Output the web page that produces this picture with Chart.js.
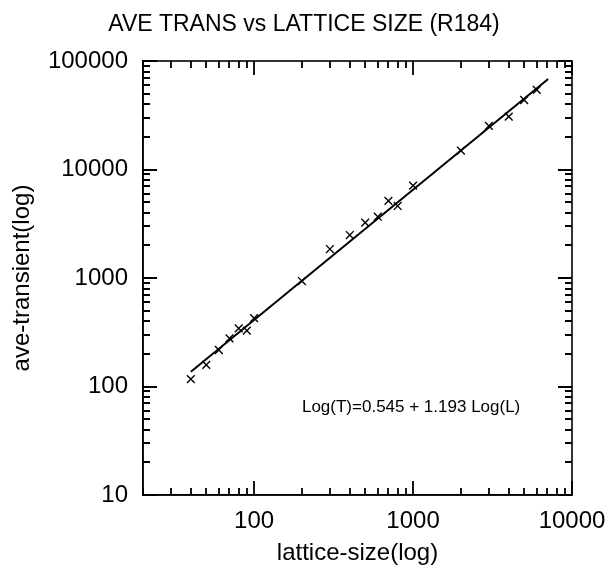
<!DOCTYPE html>
<html>
<head>
<meta charset="utf-8">
<script src="https://cdn.jsdelivr.net/npm/chart.js@4/dist/chart.umd.min.js"></script>
<style>
  html, body { margin: 0; padding: 0; background: #fff; }
  #wrap { width: 612px; height: 576px; position: relative; }
</style>
</head>
<body>
<div id="wrap"><canvas id="c" width="612" height="576"></canvas></div>
<script>
// ---- data ----
const latticeSizes = [40, 50, 60, 70, 80, 90, 100, 200, 300, 400, 500, 600, 700, 800, 1000, 2000, 3000, 4000, 5000, 6000];
const aveTransient = [117, 158, 217, 278, 344, 327, 426, 938, 1850, 2490, 3240, 3670, 5130, 4610, 7100, 14900, 25200, 30700, 43700, 54100];
const fitX = [40, 7080];
const fitY = [137, 68200];
const xRange = [20, 10000];
const yRange = [10, 100000];
const xTickLabels = [100, 1000, 10000];
const yTickLabels = [10, 100, 1000, 10000, 100000];
const titleText = 'AVE TRANS vs LATTICE SIZE (R184)';
const xTitle = 'lattice-size(log)';
const yTitle = 'ave-transient(log)';
const fitLabel = 'Log(T)=0.545 + 1.193 Log(L)';

const FONT = 'Helvetica, "Liberation Sans", Arial, sans-serif';

function logTickValues(range) {
  const out = [];
  let d = 1;
  while (d <= range[1]) {
    for (let k = 1; k <= 9; k++) {
      const v = d * k;
      if (v >= range[0] && v <= range[1]) out.push([v, k === 1]);
    }
    d = d * 10;
  }
  return out;
}

const tickPlugin = {
  id: 'inwardTicks',
  afterDraw(chart) {
    const ctx = chart.ctx;
    const a = chart.chartArea;
    const xs = chart.scales.x, ys = chart.scales.y;
    ctx.save();
    ctx.setLineDash([]);
    ctx.globalAlpha = 1;
    ctx.strokeStyle = '#000000';
    ctx.lineWidth = 1.8;
    const xv = logTickValues(xRange);
    const yv = logTickValues(yRange);
    ctx.beginPath();
    xv.forEach(function (t) {
      const px = Math.round(xs.getPixelForValue(t[0]));
      const L = t[1] ? 14 : 7;
      ctx.moveTo(px, a.bottom); ctx.lineTo(px, a.bottom - L);
      ctx.moveTo(px, a.top); ctx.lineTo(px, a.top + L);
    });
    yv.forEach(function (t) {
      const py = Math.round(ys.getPixelForValue(t[0]));
      const L = t[1] ? 14 : 7;
      ctx.moveTo(a.left, py); ctx.lineTo(a.left + L, py);
      ctx.moveTo(a.right, py); ctx.lineTo(a.right - L, py);
    });
    ctx.stroke();
    ctx.lineWidth = 1.6;
    ctx.strokeRect(a.left, a.top, a.right - a.left, a.bottom - a.top);
    ctx.fillStyle = '#000';
    ctx.font = '17px ' + FONT;
    ctx.textBaseline = 'middle';
    ctx.textAlign = 'left';
    ctx.fillText(fitLabel, xs.getPixelForValue(200), ys.getPixelForValue(64));
    ctx.font = '23px ' + FONT;
    ctx.textAlign = 'center';
    ctx.fillText(titleText, 304, 25);
    ctx.restore();
  }
};

new Chart(document.getElementById('c'), {
  type: 'scatter',
  data: {
    datasets: [
      {
        label: 'fit',
        type: 'line',
        data: fitX.map((x, i) => ({ x, y: fitY[i] })),
        borderColor: '#000',
        borderWidth: 2,
        pointRadius: 0,
        fill: false,
        tension: 0
      },
      {
        label: 'data',
        data: latticeSizes.map((x, i) => ({ x, y: aveTransient[i] })),
        pointStyle: 'crossRot',
        pointRadius: 5.5,
        borderColor: '#000',
        backgroundColor: '#000',
        borderWidth: 1.4
      }
    ]
  },
  options: {
    responsive: false,
    animation: false,
    devicePixelRatio: 1,
    layout: { padding: { left: 0, right: 40, top: 61, bottom: 0 } },
    plugins: {
      legend: { display: false },
      tooltip: { enabled: false },
      title: { display: false }
    },
    scales: {
      x: {
        type: 'logarithmic',
        min: xRange[0],
        max: xRange[1],
        afterBuildTicks(s) { s.ticks = xTickLabels.map(v => ({ value: v })); },
        afterFit(s) { s.height = 81; s.paddingLeft = 0; s.paddingRight = 0; },
        ticks: {
          autoSkip: false,
          maxRotation: 0,
          padding: 12,
          color: '#000',
          font: { family: FONT, size: 24 },
          callback: v => String(v)
        },
        grid: { display: false, drawTicks: false },
        border: { display: true, color: '#000', width: 1.6 },
        title: {
          display: true,
          text: xTitle,
          color: '#000',
          font: { family: FONT, size: 24 },
          padding: { top: 0, bottom: 8 }
        }
      },
      y: {
        type: 'logarithmic',
        min: yRange[0],
        max: yRange[1],
        afterBuildTicks(s) { s.ticks = yTickLabels.map(v => ({ value: v })); },
        afterFit(s) { s.width = 143; s.paddingTop = 0; s.paddingBottom = 0; },
        ticks: {
          autoSkip: false,
          padding: 15,
          color: '#000',
          font: { family: FONT, size: 24 },
          callback: v => String(v)
        },
        grid: { display: false, drawTicks: false },
        border: { display: true, color: '#000', width: 1.6 },
        title: {
          display: true,
          text: yTitle,
          color: '#000',
          font: { family: FONT, size: 24 },
          padding: { top: 8, bottom: 0 }
        }
      }
    }
  },
  plugins: [tickPlugin]
});
</script>
</body>
</html>
